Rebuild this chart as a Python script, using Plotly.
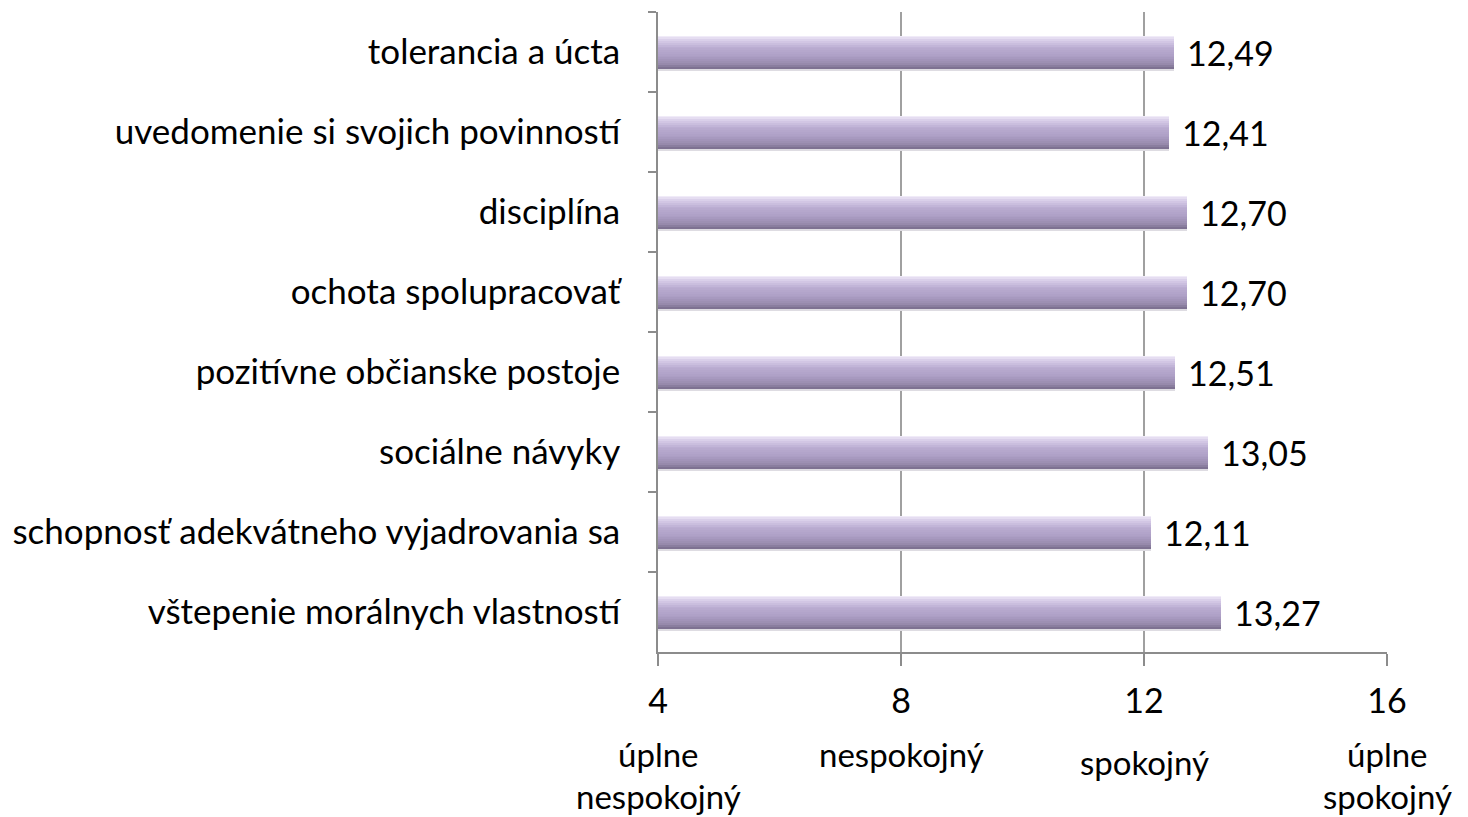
import plotly.graph_objects as go

categories = [
    "tolerancia a úcta",
    "uvedomenie si svojich povinností",
    "disciplína",
    "ochota spolupracovať",
    "pozitívne občianske postoje",
    "sociálne návyky",
    "schopnosť adekvátneho vyjadrovania sa",
    "vštepenie morálnych vlastností",
]
values = [12.49, 12.41, 12.70, 12.70, 12.51, 13.05, 12.11, 13.27]

tick_vals = [4, 8, 12, 16]
tick_text = ["4", "8", "12", "16"]
tick_desc = ["úplne<br>nespokojný", "nespokojný", "spokojný", "úplne<br>spokojný"]

FONT = "Lato"
FS = 34


def mix(c1, c2, t):
    a = [int(c1[i:i + 2], 16) for i in (1, 3, 5)]
    b = [int(c2[i:i + 2], 16) for i in (1, 3, 5)]
    return '#' + ''.join(f"{round(x + (y - x) * t):02x}" for x, y in zip(a, b))


# vertical gradient of the bars, top edge to bottom edge
anchors = [(0.0, '#f6f2fb'), (0.15, '#d8cde9'), (0.35, '#bcaed3'),
           (0.65, '#ab9dc3'), (0.85, '#998caf'), (1.0, '#786c8c')]
n_str = 18
stripe_colors = []
for k in range(n_str):
    t = (k + 0.5) / n_str
    for (t0, c0), (t1, c1) in zip(anchors, anchors[1:]):
        if t0 <= t <= t1:
            stripe_colors.append(mix(c0, c1, (t - t0) / (t1 - t0)))
            break

bar_w = 0.41
sw = bar_w / n_str

fig = go.Figure()

# soft shadow under each bar
fig.add_trace(go.Bar(
    x=values, y=categories, orientation='h',
    width=0.04, offset=bar_w / 2 - 0.005,
    marker=dict(color='#dedce2', line_width=0),
    hoverinfo='skip', showlegend=False,
))

for k, c in enumerate(stripe_colors):
    fig.add_trace(go.Bar(
        x=values, y=categories, orientation='h',
        width=sw + 0.003, offset=-bar_w / 2 + k * sw,
        marker=dict(color=c, line_width=0),
        hoverinfo='skip', showlegend=False,
    ))

# value labels
for cat, v in zip(categories, values):
    fig.add_annotation(
        x=v, y=cat, xref='x', yref='y',
        text=f"{v:.2f}".replace('.', ','),
        showarrow=False, xanchor='left', xshift=11,
        font=dict(family=FONT, size=FS, color='black'),
    )

# descriptions under the x tick numbers
for tv, d in zip(tick_vals, tick_desc):
    lines = d.split('<br>')
    y0 = -0.172 if (len(lines) == 1 and tv == 12) else -0.159
    for j, ln in enumerate(lines):
        fig.add_annotation(
            x=tv, y=y0 - j * 0.066, xref='x', yref='paper',
            text=ln, showarrow=False, xanchor='center', yanchor='middle',
            font=dict(family=FONT, size=33, color='black'),
        )

fig.update_layout(
    width=1460, height=809,
    margin=dict(l=647, r=81, t=4, b=165),
    paper_bgcolor='white', plot_bgcolor='white',
    barmode='overlay', bargap=0,
    font=dict(family=FONT, size=FS, color='black'),
    showlegend=False,
    xaxis=dict(
        range=[4, 16], tickvals=tick_vals, ticktext=tick_text,
        showgrid=True, gridcolor='#a0a0a0', gridwidth=1.5,
        showline=True, linecolor='#8c8c8c', linewidth=1.5,
        ticks='outside', ticklen=12, tickcolor='#8c8c8c', tickwidth=1.5,
        ticklabelstandoff=6, zeroline=False,
        tickfont=dict(family=FONT, size=FS, color='black'),
    ),
    yaxis=dict(
        categoryorder='array', categoryarray=categories, autorange='reversed',
        showline=True, linecolor='#8c8c8c', linewidth=1.5,
        ticks='outside', ticklen=8, tickcolor='#8c8c8c', tickwidth=1.5,
        tickson='boundaries', showgrid=False, ticklabelstandoff=29,
        tickfont=dict(family=FONT, size=35, color='black'),
    ),
)

fig.write_html("out.html")
